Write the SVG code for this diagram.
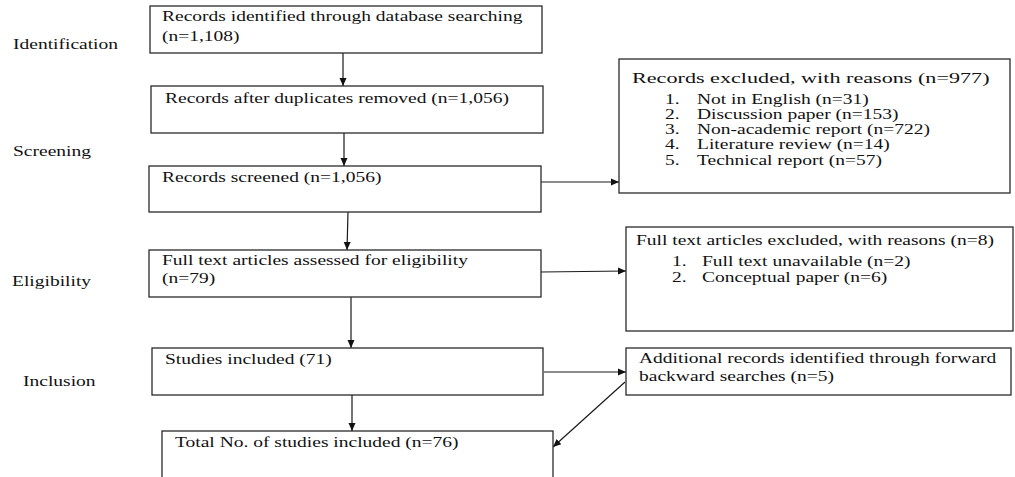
<svg xmlns="http://www.w3.org/2000/svg" width="1015" height="477" viewBox="0 0 1015 477">
<style>
  .bg{fill:#ffffff}
  .box{fill:#ffffff;stroke:#2a2a2a;stroke-width:1.3}
  .t{font-family:"Liberation Serif","Times New Roman",serif;font-size:14px;fill:#111}
  .tb{font-size:15.5px}
  .c{fill:none;stroke:#1a1a1a;stroke-width:1.2}
</style>
<defs>
  <marker id="ah" markerUnits="userSpaceOnUse" markerWidth="9" markerHeight="9" refX="8" refY="4" orient="auto">
    <path d="M0,0.5 L8,4 L0,7.5 z" fill="#111"/>
  </marker>
</defs>
<rect class="bg" x="0" y="0" width="1015" height="477"/>

<g id="stage-labels">
  <text class="t" transform="matrix(1.393,0,0,1,13,49)">Identification</text>
  <text class="t" transform="matrix(1.393,0,0,1,13,156)">Screening</text>
  <text class="t" transform="matrix(1.393,0,0,1,12,286)">Eligibility</text>
  <text class="t" transform="matrix(1.393,0,0,1,23,386)">Inclusion</text>
</g>

<g id="connectors">
  <line class="c" x1="343" y1="53" x2="343" y2="86" marker-end="url(#ah)"/>
  <line class="c" x1="344" y1="133" x2="344" y2="166" marker-end="url(#ah)"/>
  <line class="c" x1="348" y1="212" x2="347" y2="250" marker-end="url(#ah)"/>
  <line class="c" x1="351" y1="297" x2="351" y2="348" marker-end="url(#ah)"/>
  <line class="c" x1="352" y1="395" x2="352" y2="431" marker-end="url(#ah)"/>
  <line class="c" x1="541" y1="182" x2="619" y2="182" marker-end="url(#ah)"/>
  <line class="c" x1="541" y1="272" x2="626" y2="271" marker-end="url(#ah)"/>
  <line class="c" x1="544" y1="372" x2="626" y2="372" marker-end="url(#ah)"/>
  <line class="c" x1="625" y1="382" x2="553" y2="447" marker-end="url(#ah)"/>
</g>

<g id="n1">
  <rect class="box" x="150" y="6" width="392" height="47"/>
  <text class="t" transform="matrix(1.393,0,0,1,162,21)">Records identified through database searching</text>
  <text class="t" transform="matrix(1.393,0,0,1,162,41)">(n=1,108)</text>
</g>
<g id="n2">
  <rect class="box" x="151" y="86" width="392" height="47"/>
  <text class="t" transform="matrix(1.393,0,0,1,165,103)">Records after duplicates removed (n=1,056)</text>
</g>
<g id="n3">
  <rect class="box" x="149" y="166" width="392" height="46"/>
  <text class="t" transform="matrix(1.393,0,0,1,162,182)">Records screened (n=1,056)</text>
</g>
<g id="n4">
  <rect class="box" x="149" y="250" width="392" height="47"/>
  <text class="t" transform="matrix(1.393,0,0,1,162,265)">Full text articles assessed for eligibility</text>
  <text class="t" transform="matrix(1.393,0,0,1,162,283)">(n=79)</text>
</g>
<g id="n5">
  <rect class="box" x="152" y="348" width="391" height="47"/>
  <text class="t" transform="matrix(1.393,0,0,1,165,364)">Studies included (71)</text>
</g>
<g id="n6">
  <rect class="box" x="162" y="431" width="391" height="70"/>
  <text class="t" transform="matrix(1.393,0,0,1,175,447)">Total No. of studies included (n=76)</text>
</g>

<g id="n-excluded">
  <rect class="box" x="619" y="59" width="391" height="134"/>
  <text class="t tb" transform="matrix(1.43,0,0,1,632,83)">Records excluded, with reasons (n=977)</text>
  <text class="t" transform="matrix(1.393,0,0,1,665,104)">1.</text>
  <text class="t" transform="matrix(1.393,0,0,1,697,104)">Not in English (n=31)</text>
  <text class="t" transform="matrix(1.393,0,0,1,665,119)">2.</text>
  <text class="t" transform="matrix(1.393,0,0,1,697,119)">Discussion paper (n=153)</text>
  <text class="t" transform="matrix(1.393,0,0,1,665,134)">3.</text>
  <text class="t" transform="matrix(1.393,0,0,1,697,134)">Non-academic report (n=722)</text>
  <text class="t" transform="matrix(1.393,0,0,1,665,149)">4.</text>
  <text class="t" transform="matrix(1.393,0,0,1,697,149)">Literature review (n=14)</text>
  <text class="t" transform="matrix(1.393,0,0,1,665,165)">5.</text>
  <text class="t" transform="matrix(1.393,0,0,1,697,165)">Technical report (n=57)</text>
</g>

<g id="n-fulltext-excluded">
  <rect class="box" x="626" y="227" width="387" height="104"/>
  <text class="t" transform="matrix(1.393,0,0,1,636,245)">Full text articles excluded, with reasons (n=8)</text>
  <text class="t" transform="matrix(1.393,0,0,1,672,266)">1.</text>
  <text class="t" transform="matrix(1.393,0,0,1,702,266)">Full text unavailable (n=2)</text>
  <text class="t" transform="matrix(1.393,0,0,1,672,282)">2.</text>
  <text class="t" transform="matrix(1.393,0,0,1,702,282)">Conceptual paper (n=6)</text>
</g>

<g id="n-additional">
  <rect class="box" x="626" y="348" width="385" height="47"/>
  <text class="t" transform="matrix(1.393,0,0,1,639,363)">Additional records identified through forward</text>
  <text class="t" transform="matrix(1.393,0,0,1,639,381)">backward searches (n=5)</text>
</g>
</svg>
